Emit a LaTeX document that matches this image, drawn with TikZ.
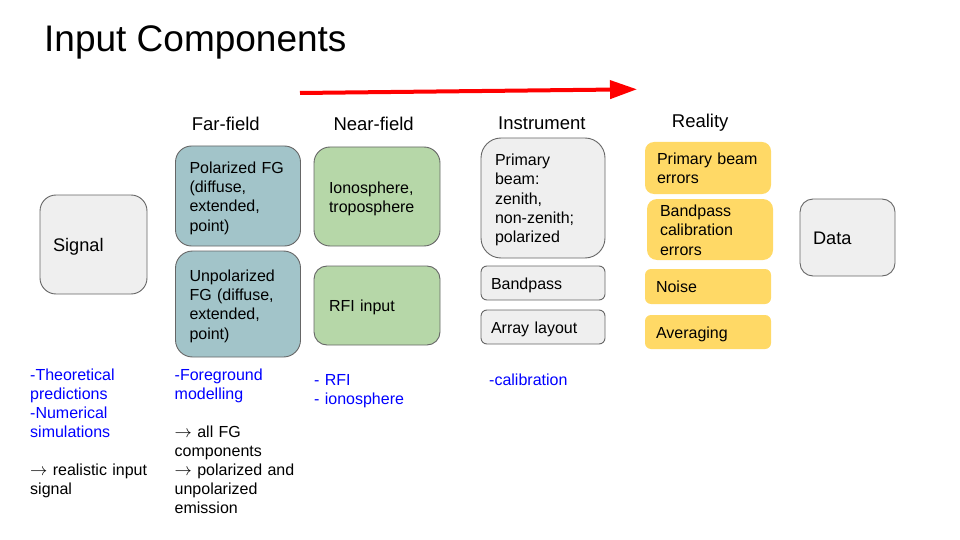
\documentclass[tikz,border=0pt]{standalone}
\usepackage{fontspec}
\setmainfont{Liberation Sans}
\usetikzlibrary{arrows.meta}
\definecolor{FarField}{HTML}{A2C4C9}
\definecolor{NearField}{HTML}{B6D7A8}
\definecolor{Instrument}{HTML}{EFEFEF}
\definecolor{Reality}{HTML}{FFD966}
\definecolor{BoxLine}{HTML}{666666}
\definecolor{NoteBlue}{HTML}{0000FF}
\newcommand\titlefont{\fontsize{37}{44}\selectfont}
\newcommand\headfont{\fontsize{18.5}{22}\selectfont}
\newcommand\cardfont{\fontsize{16}{19.3}\selectfont}
\newcommand\bigcardfont{\fontsize{18.2}{21}\selectfont}
\newcommand\notefont{\fontsize{16}{19}\selectfont}

\begin{document}
\begin{tikzpicture}[x=1pt, y=-1pt,
                    card/.style = { rectangle, draw=BoxLine, line width=0.9pt, inner xsep=14pt, inner ysep=0pt, align=left, font=\cardfont },
                    flat/.style = { card, draw=none, fill=Reality },
                    rows/.style = { text height=16pt, text depth=#1 },
                    bigcard/.style = { card, fill=Instrument, font=\bigcardfont, inner xsep=13pt, text height=16.5pt, text depth=1.9pt },
                    heading/.style = { anchor=base west, inner sep=0pt, font=\headfont },
                    note/.style = { anchor=base west, inner sep=0pt, align=left, text width=150pt, font=\notefont },
                    bluenote/.style = { note, text=NoteBlue },
                    flow/.style = { -{Triangle[length=27pt, width=18pt]}, draw=red, line width=4pt }]

  \useasboundingbox (0,0) rectangle (960,540);

  \node[anchor=base west, inner sep=0pt, font=\titlefont] (title) at(44,51.7) {Input Components};

  % column headings
  \node[heading] (farhead)  at(191.7,131) {Far-field};
  \node[heading] (nearhead) at(333.3,131) {Near-field};
  \node[heading] (insthead) at(498,130)   {Instrument};
  \node[heading] (realhead) at(671.7,127.7) {Reality};

  \coordinate (flow start) at(300,93);
  \coordinate (flow end)   at(637,89.3);
  \draw[flow] (flow start) -- (flow end);

  % signal and data
  \node[bigcard, text width=81pt, minimum width=107pt, minimum height=99pt, rounded corners=16pt] (signal) at(93.5,244.5) {Signal};
  \node[bigcard, text width=69pt, minimum width=95pt, minimum height=77pt, rounded corners=13pt] (data) at(847.5,237.5) {Data};

  % far-field
  \node[card, rows=61.5pt, fill=FarField, text width=97pt, minimum width=125pt, minimum height=100pt, rounded corners=16pt] (polfg) at(238,196) {Polarized FG\\(diffuse,\\extended,\\point)};
  \node[card, rows=61.5pt, fill=FarField, text width=97pt, minimum width=125pt, minimum height=106pt, rounded corners=17pt] (unpolfg) at(238,304) {Unpolarized\\FG (diffuse,\\extended,\\point)};

  % near-field
  \node[card, rows=22.9pt, fill=NearField, inner xsep=15pt, text width=96pt, minimum width=126pt, minimum height=99pt, rounded corners=16pt] (iono) at(377,196.5) {Ionosphere,\\troposphere};
  \node[card, rows=3.6pt, fill=NearField, inner xsep=15pt, text width=96pt, minimum width=126pt, minimum height=79pt, rounded corners=13pt] (rfi) at(377,305.5) {RFI input};

  % instrument
  \node[card, rows=80.8pt, fill=Instrument, text width=96pt, minimum width=124pt, minimum height=120pt, rounded corners=20pt] (beam) at(543,198) {Primary\\beam:\\zenith,\\non-zenith;\\polarized};
  \node[card, rows=3.6pt, fill=Instrument, inner xsep=10pt, text width=104pt, minimum width=124pt, minimum height=34pt, rounded corners=6pt] (bandpass) at(543,283) {Bandpass};
  \node[card, rows=3.6pt, fill=Instrument, inner xsep=10pt, text width=104pt, minimum width=124pt, minimum height=34pt, rounded corners=6pt] (layout) at(543,327) {Array layout};

  % reality
  \node[flat, rows=22.9pt, inner xsep=12pt, text width=102pt, minimum width=126pt, minimum height=52pt, rounded corners=9pt] (beamerr) at(708,168) {Primary beam\\errors};
  \node[flat, rows=42.2pt, inner xsep=13pt, text width=100pt, minimum width=126pt, minimum height=61pt, rounded corners=10pt] (calerr) at(710,229.5) {Bandpass\\calibration\\errors};
  \node[flat, rows=3.6pt, inner xsep=11pt, text width=104pt, minimum width=126pt, minimum height=35pt, rounded corners=6pt] (noise) at(708,286.5) {Noise};
  \node[flat, rows=3.6pt, inner xsep=11pt, text width=104pt, minimum width=126pt, minimum height=34pt, rounded corners=6pt] (avg) at(708,332) {Averaging};

  % notes below the columns
  \node[bluenote] (signalnote) at(30,380.7) {-Theoretical\\predictions\\-Numerical\\simulations};
  \node[note] (signalgoal) at(30,475) {$\rightarrow$ realistic input\\signal};
  \node[bluenote] (farnote) at(174.5,380.7) {-Foreground\\modelling};
  \node[note] (fargoal) at(174.5,437.7) {$\rightarrow$ all FG\\components\\$\rightarrow$ polarized and\\unpolarized\\emission};
  \node[bluenote] (nearnote) at(314,385.7) {- RFI\\- ionosphere};
  \node[bluenote] (instnote) at(489,385.7) {-calibration};
\end{tikzpicture}
\end{document}
